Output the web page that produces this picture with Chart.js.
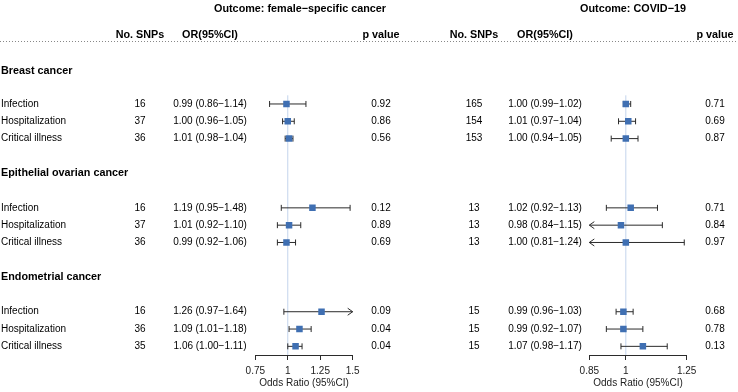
<!DOCTYPE html>
<html lang="en">
<head>
    <meta charset="UTF-8">
    <title>Forest plot: female-specific cancer and COVID-19</title>
    <style>
        body { margin: 0; background: #fff; }
        #wrap { position: relative; width: 738px; height: 392px; }
        #wrap canvas { position: absolute; left: 0; top: 0; }
    </style>
</head>
<body>

<div id="wrap">
    <canvas id="femaleChart" width="738" height="392"></canvas>
    <canvas id="covidChart" width="738" height="392"></canvas>
</div>

<script src="https://cdn.jsdelivr.net/npm/chart.js"></script>
<script>
    const groups = ['Breast cancer', 'Epithelial ovarian cancer', 'Endometrial cancer'];
    const traits = ['Infection', 'Hospitalization', 'Critical illness'];

    // Outcome: female-specific cancer
    const snpsFemale = [16, 37, 36, 16, 37, 36, 16, 36, 35];
    const orFemale   = [0.99, 1.00, 1.01, 1.19, 1.01, 0.99, 1.26, 1.09, 1.06];
    const lowFemale  = [0.86, 0.96, 0.98, 0.95, 0.92, 0.92, 0.97, 1.01, 1.00];
    const highFemale = [1.14, 1.05, 1.04, 1.48, 1.10, 1.06, 1.64, 1.18, 1.11];
    const pFemale    = ['0.92', '0.86', '0.56', '0.12', '0.89', '0.69', '0.09', '0.04', '0.04'];
    const ticksFemale = [0.75, 1, 1.25, 1.5];

    // Outcome: COVID-19
    const snpsCovid = [165, 154, 153, 13, 13, 13, 15, 15, 15];
    const orCovid   = [1.00, 1.01, 1.00, 1.02, 0.98, 1.00, 0.99, 0.99, 1.07];
    const lowCovid  = [0.99, 0.97, 0.94, 0.92, 0.84, 0.81, 0.96, 0.92, 0.98];
    const highCovid = [1.02, 1.04, 1.05, 1.13, 1.15, 1.24, 1.03, 1.07, 1.17];
    const pCovid    = ['0.71', '0.69', '0.87', '0.71', '0.84', '0.97', '0.68', '0.78', '0.13'];
    const ticksCovid = [0.85, 1, 1.25];

    const FONT = "'Liberation Sans', Arial, sans-serif";
    const BOX = '#3f6fb2';
    const LINE = '#2b2b2b';

    // row index of each estimate: 6 rows per group (header, blank, 3 traits, blank)
    const rowOf = i => Math.floor(i / 3) * 6 + (i % 3);
    const fmt = v => v.toFixed(2);

    function makePanel(id, p) {
        const points = p.or.map((v, i) => ({ x: v, y: rowOf(i) }));

        const forestPlugin = {
            id: 'forest' + id,
            beforeDatasetsDraw(chart) {
                const { ctx, chartArea } = chart;
                const xs = chart.scales.x, ys = chart.scales.y;
                ctx.save();
                // reference line at OR = 1
                ctx.strokeStyle = '#c3d4ec';
                ctx.lineWidth = 1;
                ctx.beginPath();
                ctx.moveTo(xs.getPixelForValue(1), ys.getPixelForValue(-0.5));
                ctx.lineTo(xs.getPixelForValue(1), chartArea.bottom);
                ctx.stroke();

                ctx.strokeStyle = LINE;
                p.or.forEach((v, i) => {
                    const y = ys.getPixelForValue(rowOf(i));
                    const lo = Math.max(p.low[i], xs.min), hi = Math.min(p.high[i], xs.max);
                    const xl = xs.getPixelForValue(lo), xr = xs.getPixelForValue(hi);
                    ctx.beginPath();
                    ctx.moveTo(xl, y);
                    ctx.lineTo(xr, y);
                    if (p.low[i] < xs.min) {
                        ctx.moveTo(xl + 5, y - 3.5); ctx.lineTo(xl, y); ctx.lineTo(xl + 5, y + 3.5);
                    } else {
                        ctx.moveTo(xl, y - 3); ctx.lineTo(xl, y + 3);
                    }
                    if (p.high[i] > xs.max) {
                        ctx.moveTo(xr - 5, y - 3.5); ctx.lineTo(xr, y); ctx.lineTo(xr - 5, y + 3.5);
                    } else {
                        ctx.moveTo(xr, y - 3); ctx.lineTo(xr, y + 3);
                    }
                    ctx.stroke();
                });
                ctx.restore();
            },
            afterDraw(chart) {
                const { ctx } = chart;
                const ys = chart.scales.y;
                ctx.save();
                ctx.fillStyle = '#000';
                ctx.textBaseline = 'middle';

                // panel title and column headers
                ctx.font = 'bold 10.8px ' + FONT;
                ctx.textAlign = 'center';
                ctx.fillText(p.title, p.col.title, ys.getPixelForValue(-5.5));
                const hy = ys.getPixelForValue(-4);
                ctx.fillText('No. SNPs', p.col.snps, hy);
                ctx.fillText('OR(95%CI)', p.col.or, hy);
                ctx.fillText('p value', p.col.p, hy);

                if (p.labels) {
                    // dotted line under the headers
                    ctx.save();
                    ctx.strokeStyle = '#888';
                    ctx.lineWidth = 1;
                    ctx.setLineDash([1, 2]);
                    ctx.beginPath();
                    ctx.moveTo(0, 41.5);
                    ctx.lineTo(738, 41.5);
                    ctx.stroke();
                    ctx.restore();

                    ctx.textAlign = 'left';
                    groups.forEach((g, gi) => {
                        ctx.font = 'bold 10.8px ' + FONT;
                        ctx.fillText(g, 1, ys.getPixelForValue(gi * 6 - 2 + (gi === 0 ? 0.1 : 0)));
                        ctx.font = '10px ' + FONT;
                        traits.forEach((t, ti) => ctx.fillText(t, 1, ys.getPixelForValue(gi * 6 + ti)));
                    });
                }

                ctx.font = '10px ' + FONT;
                ctx.textAlign = 'center';
                p.or.forEach((v, i) => {
                    const y = ys.getPixelForValue(rowOf(i));
                    ctx.fillText(String(p.snps[i]), p.col.snps, y);
                    ctx.fillText(fmt(v) + ' (' + fmt(p.low[i]) + '\u2212' + fmt(p.high[i]) + ')', p.col.or, y);
                    ctx.fillText(p.pval[i], p.col.p, y);
                });
                ctx.restore();
            }
        };

        return new Chart(document.getElementById(id), {
            type: 'scatter',
            data: {
                datasets: [{
                    data: points,
                    pointStyle: 'rect',
                    pointRadius: 4.6,
                    pointHoverRadius: 4.6,
                    backgroundColor: BOX,
                    borderColor: BOX,
                    borderWidth: 0
                }]
            },
            options: {
                responsive: false,
                animation: false,
                devicePixelRatio: 1,
                layout: { padding: { left: p.padL, right: p.padR, top: 0, bottom: 3 } },
                plugins: { legend: { display: false }, tooltip: { enabled: false } },
                scales: {
                    x: {
                        type: 'linear',
                        min: p.ticks[0],
                        max: p.ticks[p.ticks.length - 1],
                        afterBuildTicks: s => { s.ticks = p.ticks.map(v => ({ value: v })); },
                        afterFit: s => { s.height = 34; },
                        grid: { drawOnChartArea: false, drawTicks: true, tickLength: 5, color: LINE },
                        border: { display: true, color: LINE, width: 1 },
                        ticks: {
                            padding: 5,
                            color: '#222',
                            font: { family: FONT, size: 10 },
                            maxRotation: 0,
                            callback: v => String(v)
                        },
                        title: {
                            display: true,
                            text: 'Odds Ratio (95%CI)',
                            color: '#222',
                            font: { family: FONT, size: 10 },
                            padding: { top: 0, bottom: 0 }
                        }
                    },
                    y: { type: 'linear', reverse: true, min: -5.74, max: 14.5, display: false }
                }
            },
            plugins: [forestPlugin]
        });
    }

    makePanel('femaleChart', {
        title: 'Outcome: female\u2212specific cancer',
        labels: true,
        snps: snpsFemale, or: orFemale, low: lowFemale, high: highFemale, pval: pFemale,
        ticks: ticksFemale,
        padL: 255.3, padR: 738 - 352.7,
        col: { title: 300, snps: 140, or: 210, p: 381 }
    });

    makePanel('covidChart', {
        title: 'Outcome: COVID\u221219',
        labels: false,
        snps: snpsCovid, or: orCovid, low: lowCovid, high: highCovid, pval: pCovid,
        ticks: ticksCovid,
        padL: 589.3, padR: 738 - 686.7,
        col: { title: 633, snps: 474, or: 545, p: 715 }
    });
</script>

</body>
</html>
